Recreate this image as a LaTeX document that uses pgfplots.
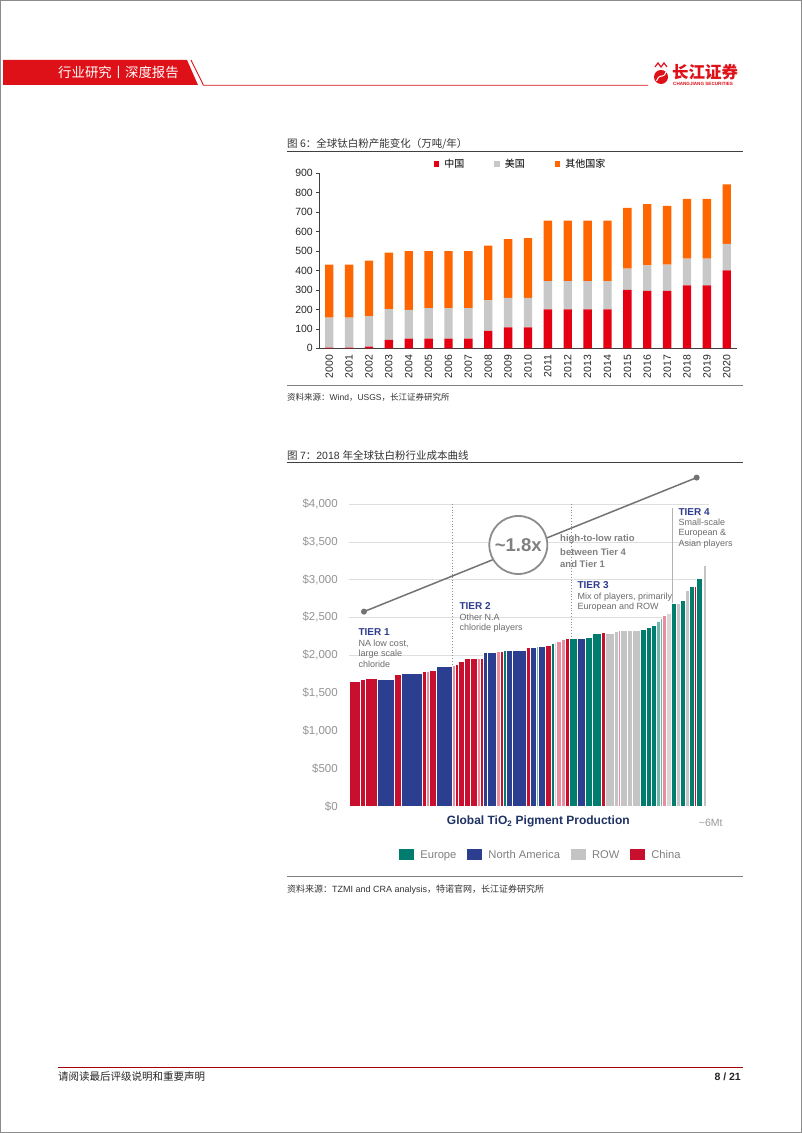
\documentclass[border=0pt]{standalone}
\usepackage{pgfplots}
\usepackage{pgfplotstable}
\pgfplotsset{compat=1.18}
\usepackage{fontspec}
\setmainfont{Liberation Sans}
\newfontfamily\cjk{Noto Sans CJK SC}
\definecolor{hdrRed}{RGB}{222,16,24}
\definecolor{cCNa}{RGB}{228,0,18}
\definecolor{cUSa}{RGB}{200,200,200}
\definecolor{cOTa}{RGB}{255,102,0}
\definecolor{cCh}{RGB}{200,16,46}
\definecolor{cPk}{RGB}{232,140,160}
\definecolor{cNA}{RGB}{44,62,143}
\definecolor{cEu}{RGB}{0,125,110}
\definecolor{cTl}{RGB}{110,185,172}
\definecolor{cW}{RGB}{196,196,196}
\definecolor{cWl}{RGB}{215,215,215}
\definecolor{cYl}{RGB}{228,226,170}
\definecolor{tierBlue}{RGB}{46,61,143}
\definecolor{xlabBlue}{RGB}{31,50,100}

\pgfplotstableread{
x cn us ot
0 3 155 272
1 3 155 272
2 9 157 285
3 43 159 290
4 50 147 303
5 50 157 293
6 50 157 293
7 50 157 293
8 89 158 281
9 108 151 303
10 108 151 308
11 200 146 310
12 200 146 310
13 200 146 311
14 200 146 311
15 300 110 312
16 295 132 315
17 295 135 302
18 324 137 307
19 324 137 307
20 401 136 306
}\capdata

\newcommand{\cb}[4]{\addplot[fill=#4, draw=white, line width=0.35pt, forget plot] coordinates {(#1,0) (#1,#3) (#2,#3) (#2,0)} -- cycle;}

\begin{document}
\begin{tikzpicture}[x=1pt,y=1pt]
\path[use as bounding box] (0,0) rectangle (802,1133);
\fill[white] (0,0) rectangle (802,1133);

% ---------- chart 1 ----------
\begin{axis}[
  at={(319.3pt,784.7pt)}, anchor=south west, scale only axis,
  width=417.4pt, height=175pt,
  ybar stacked, bar width=8.3pt,
  xmin=-0.5, xmax=20.5, ymin=0, ymax=900,
  ytick={0,100,...,900},
  xtick={0,1,...,20},
  xticklabels={2000,2001,2002,2003,2004,2005,2006,2007,2008,2009,2010,2011,2012,2013,2014,2015,2016,2017,2018,2019,2020},
  x tick label style={rotate=90, anchor=east, font=\fontsize{10.5}{10.5}\selectfont, text=black!85},
  y tick label style={font=\fontsize{10.5}{10.5}\selectfont, text=black!85},
  axis x line*=bottom, axis y line*=left,
  axis line style={black!75, line width=0.6pt},
  ytick pos=left, tick align=outside, major tick length=3pt,
  y tick style={black!75, line width=0.6pt},
  x tick style={draw=none},
  /pgf/number format/assume math mode=true,
  legend columns=3,
  legend style={at={(0.4825,1.053)}, anchor=center, draw=none, fill=none,
    font=\cjk\fontsize{10}{10}\selectfont, inner sep=0pt,
    /tikz/every odd column/.append style={column sep=3pt},
    /tikz/every even column/.append style={column sep=28pt}},
  legend image code/.code={\fill[#1, draw=none] (0pt,-2.7pt) rectangle (5.4pt,2.7pt);},
]
\addplot[fill=cCNa, draw=none] table[x=x,y=cn]{\capdata}; \addlegendentry{中国}
\addplot[fill=cUSa, draw=none] table[x=x,y=us]{\capdata}; \addlegendentry{美国}
\addplot[fill=cOTa, draw=none] table[x=x,y=ot]{\capdata}; \addlegendentry{其他国家}
\end{axis}

% ---------- chart 2 ----------
\begin{axis}[
  at={(349.3pt,326.5pt)}, anchor=south west, scale only axis,
  width=360pt, height=302.5pt,
  xmin=0, xmax=1080, ymin=0, ymax=4000, clip=false,
  axis line style={draw=none},
  xtick=\empty,
  ytick={0,500,...,4000},
  yticklabels={{\$0},{\$500},{\$1,000},{\$1,500},{\$2,000},{\$2,500},{\$3,000},{\$3,500},{\$4,000}},
  major tick length=0pt, ytick style={draw=none},
  y tick label style={text=black!42, font=\fontsize{11.5}{11.5}\selectfont, xshift=-8pt},
  ymajorgrids, grid style={black!13, line width=0.6pt},
  legend columns=4,
  legend style={at={(0.5325,-0.160)}, anchor=center, draw=none, fill=none,
    font=\fontsize{11.2}{11.2}\selectfont, text=black!50,
    /tikz/every odd column/.append style={column sep=4pt},
    /tikz/every even column/.append style={column sep=9pt}},
  legend image code/.code={\fill[#1, draw=none] (0pt,-5.5pt) rectangle (15pt,6pt);},
]
\addlegendimage{fill=cEu, draw=none}\addlegendentry{Europe}
\addlegendimage{fill=cNA, draw=none}\addlegendentry{North America}
\addlegendimage{fill=cW, draw=none}\addlegendentry{ROW}
\addlegendimage{fill=cCh, draw=none}\addlegendentry{China}
\cb{0}{33}{1655}{cCh}
\cb{33}{49}{1681}{cCh}
\cb{49}{85}{1699}{cCh}
\cb{85}{136}{1686}{cNA}
\cb{136}{156}{1752}{cCh}
\cb{156}{218}{1761}{cNA}
\cb{218}{231}{1790}{cCh}
\cb{231}{241}{1795}{cPk}
\cb{241}{260}{1800}{cCh}
\cb{260}{309}{1854}{cNA}
\cb{309}{317}{1870}{cPk}
\cb{317}{328}{1880}{cCh}
\cb{328}{345}{1916}{cCh}
\cb{345}{363}{1965}{cCh}
\cb{363}{385}{1965}{cCh}
\cb{385}{392}{1965}{cPk}
\cb{392}{403}{1965}{cCh}
\cb{403}{413}{2040}{cNA}
\cb{413}{440}{2035}{cNA}
\cb{440}{452}{2053}{cPk}
\cb{452}{463}{2053}{cCh}
\cb{463}{470}{2071}{cEu}
\cb{470}{490}{2071}{cNA}
\cb{490}{530}{2071}{cNA}
\cb{530}{543}{2111}{cCh}
\cb{543}{562}{2111}{cNA}
\cb{562}{568}{2115}{cTl}
\cb{568}{588}{2115}{cNA}
\cb{588}{605}{2137}{cCh}
\cb{605}{614}{2165}{cEu}
\cb{614}{622}{2171}{cWl}
\cb{622}{637}{2189}{cPk}
\cb{637}{647}{2206}{cPk}
\cb{647}{660}{2228}{cCh}
\cb{660}{684}{2232}{cEu}
\cb{684}{707}{2232}{cNA}
\cb{707}{728}{2241}{cEu}
\cb{728}{755}{2294}{cEu}
\cb{755}{768}{2303}{cCh}
\cb{768}{795}{2290}{cW}
\cb{795}{808}{2316}{cW}
\cb{808}{814}{2325}{cPk}
\cb{814}{833}{2325}{cW}
\cb{833}{850}{2325}{cW}
\cb{850}{874}{2325}{cW}
\cb{874}{891}{2346}{cEu}
\cb{891}{907}{2368}{cEu}
\cb{907}{921}{2395}{cEu}
\cb{921}{932}{2447}{cTl}
\cb{932}{940}{2491}{cTl}
\cb{940}{952}{2535}{cPk}
\cb{952}{966}{2557}{cWl}
\cb{966}{982}{2689}{cEu}
\cb{982}{993}{2684}{cW}
\cb{993}{1008}{2732}{cEu}
\cb{1008}{1019}{2864}{cW}
\cb{1019}{1034}{2917}{cEu}
\cb{1034}{1040}{2917}{cCh}
\cb{1040}{1058}{3018}{cEu}
\cb{1058}{1063}{3149}{cYl}
\cb{1063}{1070}{3193}{cW}
\cb{1070}{1073}{3300}{cTl}
\cb{1073}{1078}{3390}{cEu}
% tier separators
\addplot[black!45, dotted, line width=0.8pt, forget plot] coordinates {(309,4000) (309,1854)};
\addplot[black!45, dotted, line width=0.8pt, forget plot] coordinates {(667,4000) (667,2232)};
\addplot[black!30, line width=0.8pt, forget plot] coordinates {(970,3950) (970,2689)};
% ratio line
\addplot[black!55, line width=1.5pt, mark=*, mark size=2.2pt, mark options={fill=black!55, draw=black!55}, forget plot] coordinates {(44,2577) (1042,4349)};
\end{axis}

\begin{scope}[yshift=1133pt, y=-1pt]
% page frame
\draw[black!45, line width=0.8pt] (0.4,0.4) rectangle (801.6,1132.6);
% header
\fill[hdrRed] (3,60) -- (187,60) -- (198,85) -- (3,85) -- cycle;
\draw[hdrRed, line width=0.9pt] (191,60) -- (203.5,85.3) -- (648,85.3);
\node[anchor=west, text=white, font=\cjk\fontsize{13.4}{14}\selectfont, inner sep=0pt] at (58,72.5) {行业研究丨深度报告};
\fill[hdrRed] (661,77) circle (7);
\draw[white, line width=1pt] (656.5,81) .. controls (660,72) and (663,80) .. (666,72);
\draw[hdrRed, line width=1.2pt] (655,67) -- (658,63) -- (661,67) -- (664,63) -- (667,67);
\node[anchor=west, text=hdrRed, font=\cjk\bfseries\fontsize{16.5}{17}\selectfont, inner sep=0pt] at (672,72) {长江证券};
\node[anchor=west, text=hdrRed, font=\bfseries\fontsize{4.6}{5}\selectfont, inner sep=0pt] at (673,83.5) {CHANGJIANG SECURITIES};

% chart 1 title and source
\node[anchor=west, text=black!80, font=\cjk\fontsize{10.5}{11}\selectfont, inner sep=0pt] at (287,144) {图 6：全球钛白粉产能变化（万吨/年）};
\draw[black!75, line width=0.8pt] (287,151.5) -- (743,151.5);
\draw[black!50, line width=0.5pt] (287,385) -- (743,385);
\node[anchor=west, text=black!80, font=\fontsize{8.5}{9}\selectfont, inner sep=0pt] at (287,397) {{\cjk 资料来源：}Wind{\cjk ，}USGS{\cjk ，长江证券研究所}};

% chart 2 title and source
\node[anchor=west, text=black!80, font=\fontsize{10.5}{11}\selectfont, inner sep=0pt] at (287,455) {{\cjk 图 }7{\cjk ：}2018 {\cjk 年全球钛白粉行业成本曲线}};
\draw[black!75, line width=0.8pt] (287,462.5) -- (743,462.5);
\draw[black!50, line width=0.5pt] (287,876) -- (743,876);
\node[anchor=west, text=black!80, font=\fontsize{9}{9}\selectfont, inner sep=0pt] at (287,890) {{\cjk 资料来源：}TZMI and CRA analysis{\cjk ，特诺官网，长江证券研究所}};

% chart 2 annotations
\node[circle, draw=black!45, line width=1.8pt, fill=white, minimum size=58pt, inner sep=0pt, text=black!50, font=\bfseries\fontsize{18.5}{19}\selectfont] at (518.3,545) {\textasciitilde1.8x};
\begin{scope}[every node/.style={anchor=west, inner sep=0pt}]
\node[text=black!50, font=\bfseries\fontsize{9.5}{10}\selectfont] at (560,539.3) {high-to-low ratio};
\node[text=black!50, font=\bfseries\fontsize{9.5}{10}\selectfont] at (560,551.7) {between Tier 4};
\node[text=black!50, font=\bfseries\fontsize{9.5}{10}\selectfont] at (560,563.7) {and Tier 1};
\node[text=tierBlue, font=\bfseries\fontsize{10}{10}\selectfont] at (358.3,632.3) {TIER 1};
\node[text=black!58, font=\fontsize{9}{9}\selectfont] at (358.3,643.7) {NA low cost,};
\node[text=black!58, font=\fontsize{9}{9}\selectfont] at (358.3,654.3) {large scale};
\node[text=black!58, font=\fontsize{9}{9}\selectfont] at (358.3,664.6) {chloride};
\node[text=tierBlue, font=\bfseries\fontsize{10}{10}\selectfont] at (459.3,605.7) {TIER 2};
\node[text=black!58, font=\fontsize{9}{9}\selectfont] at (459.3,617) {Other N.A};
\node[text=black!58, font=\fontsize{9}{9}\selectfont] at (459.3,627.7) {chloride players};
\node[text=tierBlue, font=\bfseries\fontsize{10}{10}\selectfont] at (577.3,584.7) {TIER 3};
\node[text=black!58, font=\fontsize{9}{9}\selectfont] at (577.3,596.7) {Mix of players, primarily};
\node[text=black!58, font=\fontsize{9}{9}\selectfont] at (577.3,607) {European and ROW};
\node[text=tierBlue, font=\bfseries\fontsize{10}{10}\selectfont] at (678.3,511.7) {TIER 4};
\node[text=black!58, font=\fontsize{9}{9}\selectfont] at (678.3,522.7) {Small-scale};
\node[text=black!58, font=\fontsize{9}{9}\selectfont] at (678.3,533.3) {European \&};
\node[text=black!58, font=\fontsize{9}{9}\selectfont] at (678.3,543.7) {Asian players};
\end{scope}
\node[text=xlabBlue, font=\bfseries\fontsize{12}{12}\selectfont, inner sep=0pt] at (538.3,821.7) {Global TiO\textsubscript{2} Pigment Production};
\node[text=black!40, font=\fontsize{10.5}{10.5}\selectfont, inner sep=0pt] at (710.7,822.7) {\textasciitilde6Mt};

% footer
\draw[red!65!black, line width=0.8pt] (58,1067.5) -- (743,1067.5);
\node[anchor=west, text=black!85, font=\cjk\fontsize{10.5}{11}\selectfont, inner sep=0pt] at (58,1077) {请阅读最后评级说明和重要声明};
\node[anchor=east, text=black!85, font=\bfseries\fontsize{10.5}{11}\selectfont, inner sep=0pt] at (741,1077) {8 / 21};
\end{scope}
\end{tikzpicture}
\end{document}
